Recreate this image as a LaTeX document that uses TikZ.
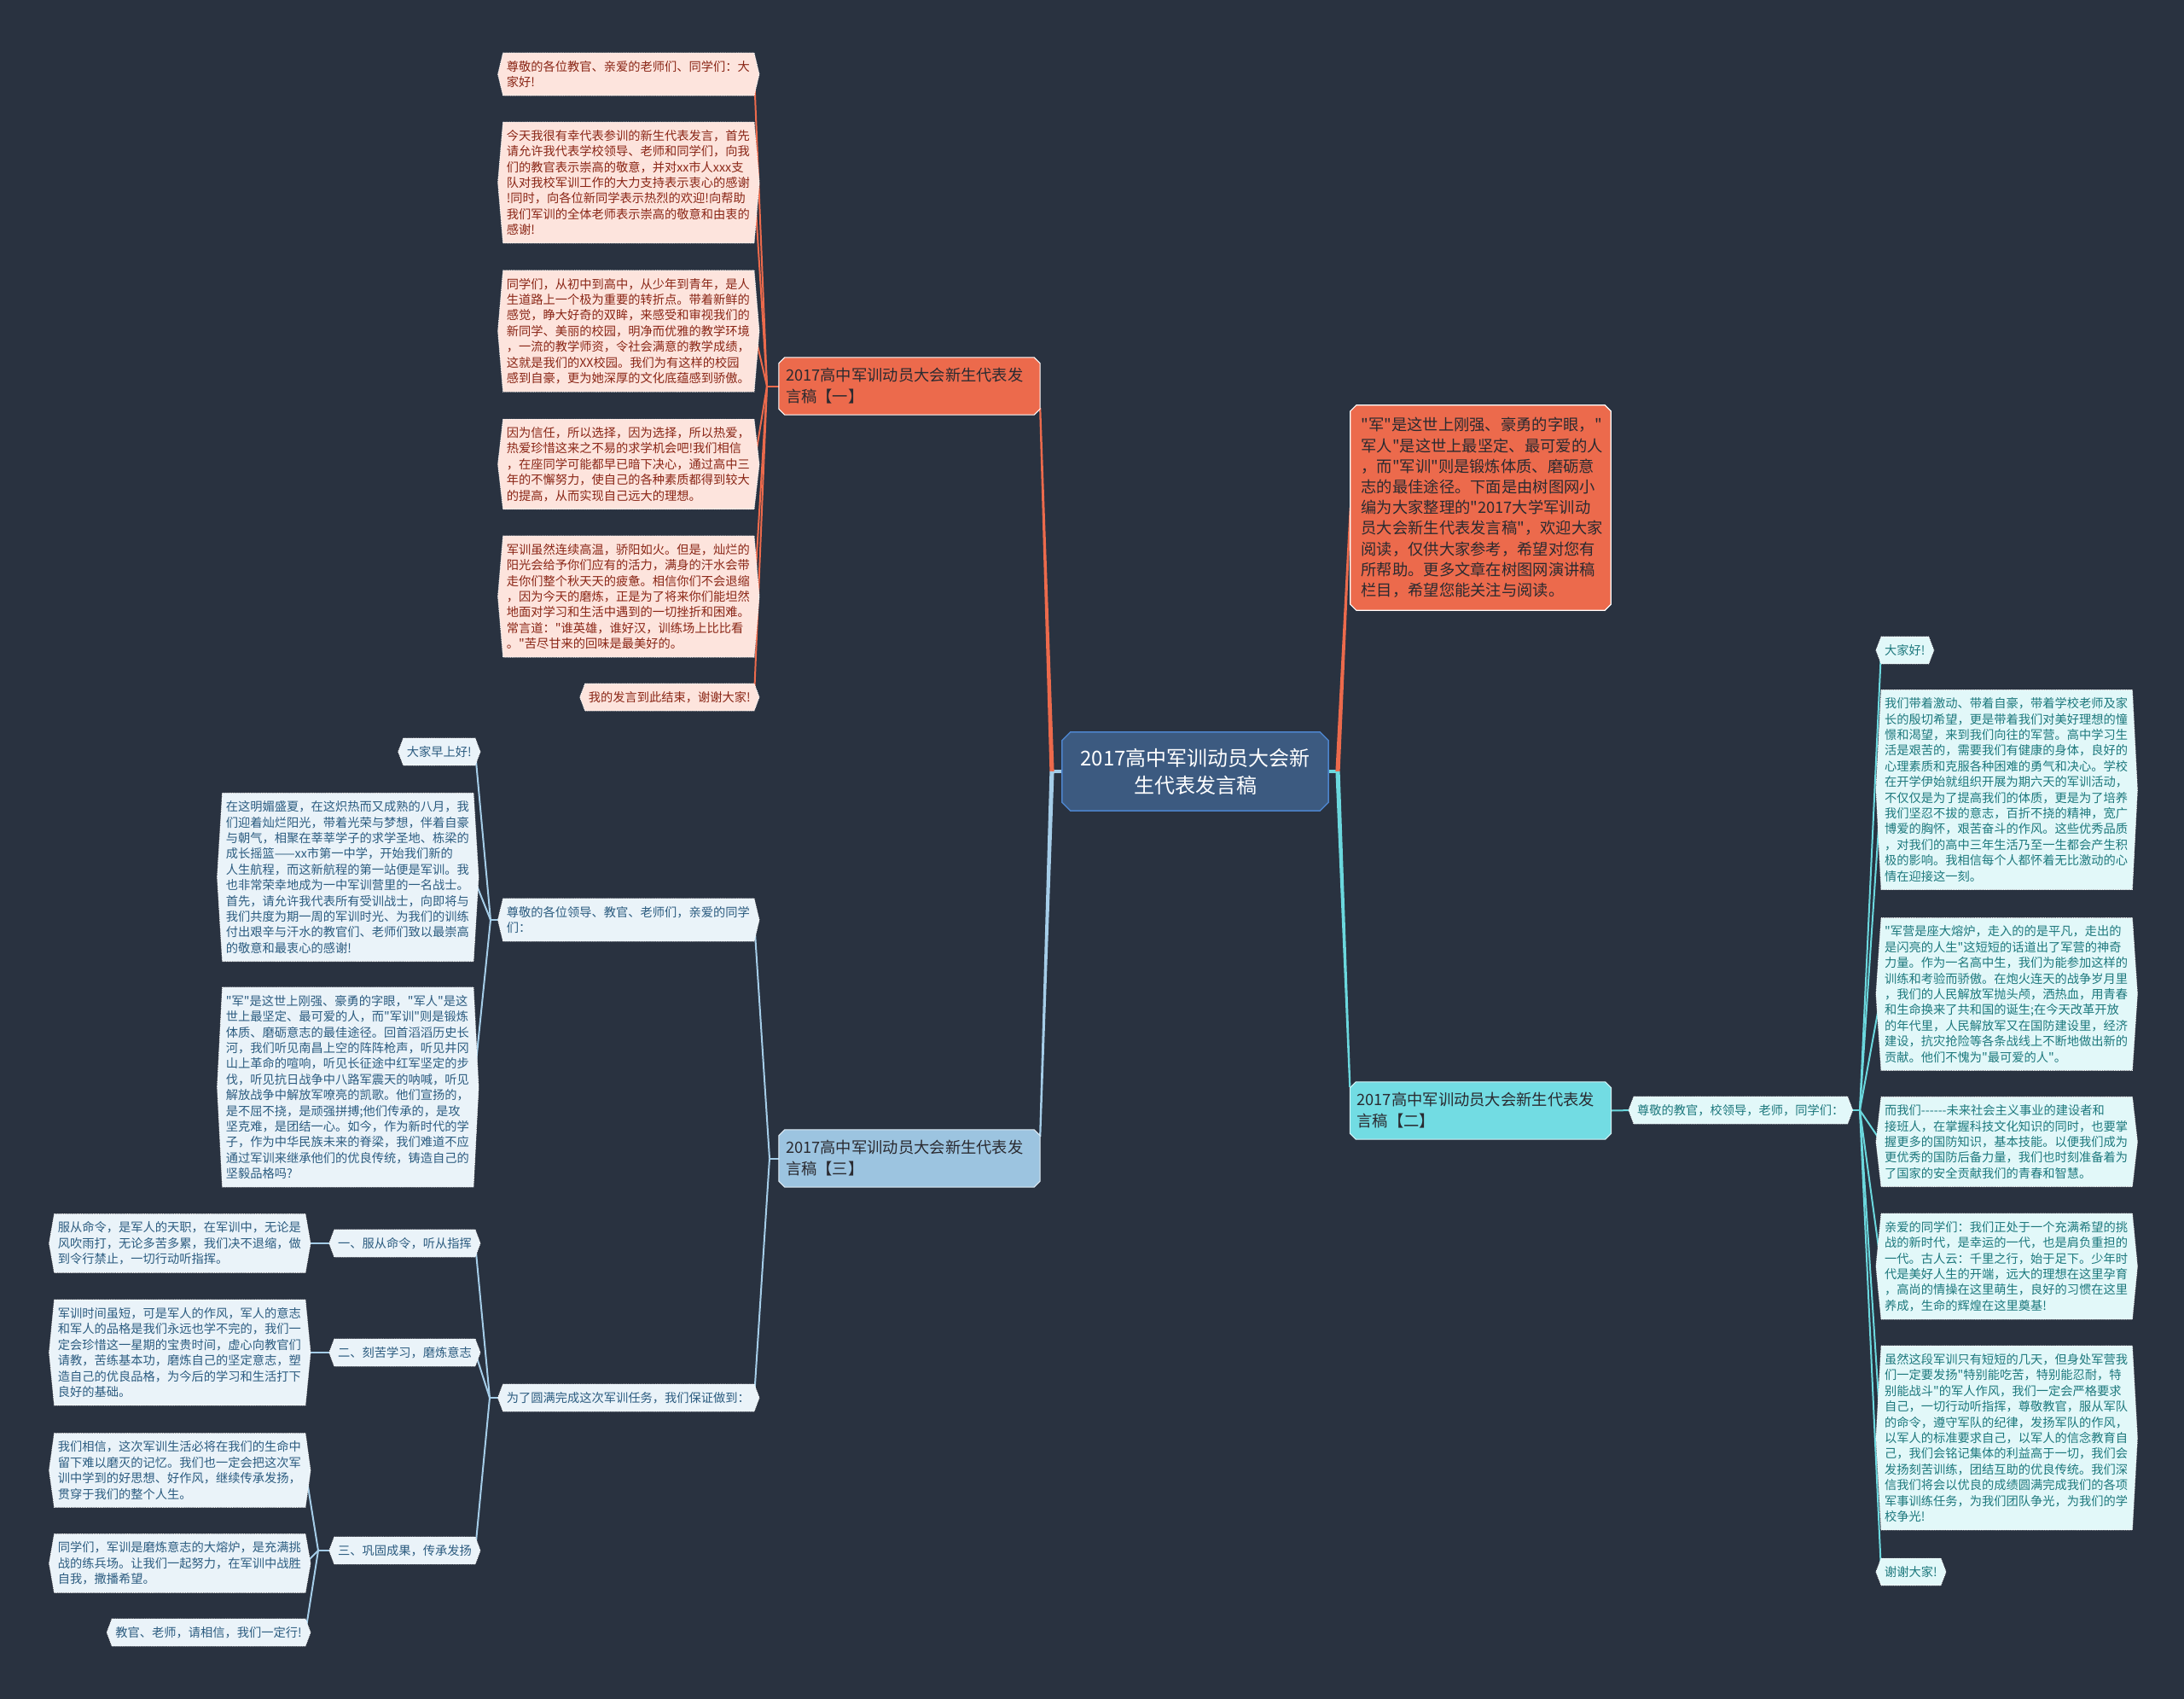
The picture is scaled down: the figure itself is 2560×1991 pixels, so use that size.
\documentclass[tikz,border=0pt]{standalone}
\usepackage{fontspec}
\setmainfont{Noto Sans CJK SC}[Ligatures=TeXOff]
\usetikzlibrary{calc}
\pgfdeclarelayer{bg}
\pgfdeclarelayer{lines}
\pgfdeclarelayer{shapes}
\pgfsetlayers{bg,lines,shapes,main}
\definecolor{bgc}{RGB}{41,50,64}
\definecolor{redc}{HTML}{EC6A4C}
\definecolor{redfill}{HTML}{FDE4DD}
\definecolor{redtext}{HTML}{8A2616}
\definecolor{bluec}{HTML}{A5CDE8}
\definecolor{bluenode}{HTML}{9CC4E0}
\definecolor{bluefill}{HTML}{EAF3F9}
\definecolor{bluetext}{HTML}{2C5C80}
\definecolor{cyanc}{HTML}{6BD8DE}
\definecolor{cyannode}{HTML}{72DCE3}
\definecolor{cyanfill}{HTML}{E2F8F9}
\definecolor{cyantext}{HTML}{1D787D}
\definecolor{centerfill}{HTML}{3C5A80}
\definecolor{centerdraw}{HTML}{4D84CC}
\definecolor{darktext}{HTML}{2A2A30}
\newcommand\hexshape[3]{%
  \begin{pgfonlayer}{shapes}
  \path[fill=#2,draw=#3,line width=0.9pt,densely dotted] (#1.north west) -- (#1.north east) -- ([xshift=6pt]#1.east) -- (#1.south east) -- (#1.south west) -- ([xshift=-6pt]#1.west) -- cycle;
  \end{pgfonlayer}}
\newcommand\octshape[5]{%
  \begin{pgfonlayer}{shapes}
  \path[fill=#2,draw=#3,line width=#5] ([xshift=#4]#1.north west) -- ([xshift=-#4]#1.north east) -- ([yshift=-#4]#1.north east) -- ([yshift=#4]#1.south east) -- ([xshift=-#4]#1.south east) -- ([xshift=#4]#1.south west) -- ([yshift=#4]#1.south west) -- ([yshift=-#4]#1.north west) -- cycle;
  \end{pgfonlayer}}
\newcommand\taper[5]{%
  \fill[#5] ($(#1)!#3!90:(#2)$) -- ($(#2)!#4!-90:(#1)$) -- ($(#2)!#4!90:(#1)$) -- ($(#1)!#3!-90:(#2)$) -- cycle;}
\tikzset{
  lf/.style={inner xsep=4pt,inner ysep=9pt,font=\fontsize{14.25}{18.4}\selectfont,align=left},
  wd/.style={text width=286pt},
  rlf/.style={lf,text=redtext},
  blf/.style={lf,text=bluetext},
  clf/.style={lf,text=cyantext},
  brn/.style={inner xsep=8pt,inner ysep=6pt,font=\fontsize{18.3}{25}\selectfont,text width=290pt,align=left,minimum height=67pt,text=darktext},
  subline/.style={line width=2pt},
}
\begin{document}
\begin{tikzpicture}[x=1pt,y=-1pt]
\useasboundingbox (0,0) rectangle (2560,1991);
\begin{pgfonlayer}{bg}\fill[bgc] (0,0) rectangle (2560,1991);\end{pgfonlayer}

% center
\node[minimum width=312pt,minimum height=92pt,inner sep=0pt,align=center,text=white,font=\fontsize{24}{32}\selectfont] (c) at (1401,904) {2017高中军训动员大会新\\生代表发言稿};
\octshape{c}{centerfill}{centerdraw}{10pt}{1.5pt}

% main branches
\node[brn] (n1) at (1066,452.5) {2017高中军训动员大会新生代表发\\言稿【一】};
\octshape{n1}{redc}{white}{7pt}{1pt}
\node[brn] (n3) at (1066,1357.5) {2017高中军训动员大会新生代表发\\言稿【三】};
\octshape{n3}{bluenode}{white!70!bluenode}{7pt}{1pt}
\node[brn] (n2) at (1735.5,1301.5) {2017高中军训动员大会新生代表发\\言稿【二】};
\octshape{n2}{cyannode}{white!70!cyannode}{7pt}{1pt}
\node[inner xsep=12.5pt,text width=280pt,minimum height=240pt,align=left,text=darktext,font=\fontsize{18.3}{24.2}\selectfont] (rn) at (1735.5,595) {"军"是这世上刚强、豪勇的字眼，"\\
军人"是这世上最坚定、最可爱的人\\
，而"军训"则是锻炼体质、磨砺意\\
志的最佳途径。下面是由树图网小\\
编为大家整理的"2017大学军训动\\
员大会新生代表发言稿"，欢迎大家\\
阅读，仅供大家参考，希望对您有\\
所帮助。更多文章在树图网演讲稿\\
栏目，希望您能关注与阅读。};
\octshape{rn}{redc}{white}{7pt}{1.2pt}

% branch 1 leaves
\node[rlf,wd,anchor=east] (L1) at (884,87) {尊敬的各位教官、亲爱的老师们、同学们：大\\
家好!};
\node[rlf,wd,anchor=east] (L2) at (884,214) {今天我很有幸代表参训的新生代表发言，首先\\
请允许我代表学校领导、老师和同学们，向我\\
们的教官表示崇高的敬意，并对xx市人xxx支\\
队对我校军训工作的大力支持表示衷心的感谢\\
!同时，向各位新同学表示热烈的欢迎!向帮助\\
我们军训的全体老师表示崇高的敬意和由衷的\\
感谢!};
\node[rlf,wd,anchor=east] (L3) at (884,388) {同学们，从初中到高中，从少年到青年，是人\\
生道路上一个极为重要的转折点。带着新鲜的\\
感觉，睁大好奇的双眸，来感受和审视我们的\\
新同学、美丽的校园，明净而优雅的教学环境\\
，一流的教学师资，令社会满意的教学成绩，\\
这就是我们的XX校园。我们为有这样的校园\\
感到自豪，更为她深厚的文化底蕴感到骄傲。};
\node[rlf,wd,anchor=east] (L4) at (884,544) {因为信任，所以选择，因为选择，所以热爱，\\
热爱珍惜这来之不易的求学机会吧!我们相信\\
，在座同学可能都早已暗下决心，通过高中三\\
年的不懈努力，使自己的各种素质都得到较大\\
的提高，从而实现自己远大的理想。};
\node[rlf,wd,anchor=east] (L5) at (884,699) {军训虽然连续高温，骄阳如火。但是，灿烂的\\
阳光会给予你们应有的活力，满身的汗水会带\\
走你们整个秋天天的疲惫。相信你们不会退缩\\
，因为今天的磨炼，正是为了将来你们能坦然\\
地面对学习和生活中遇到的一切挫折和困难。\\
常言道："谁英雄，谁好汉，训练场上比比看\\
。"苦尽甘来的回味是最美好的。};
\node[rlf,anchor=east] (L6) at (884,817) {我的发言到此结束，谢谢大家!};

% branch 3 (blue)
\node[blf,wd,anchor=east] (B1) at (884,1078) {尊敬的各位领导、教官、老师们，亲爱的同学\\
们：};
\node[blf,wd,anchor=east] (B2) at (884,1638) {为了圆满完成这次军训任务，我们保证做到：};
\node[blf,anchor=east] (C1) at (557,881) {大家早上好!};
\node[blf,wd,anchor=east] (C2) at (555,1028) {在这明媚盛夏，在这炽热而又成熟的八月，我\\
们迎着灿烂阳光，带着光荣与梦想，伴着自豪\\
与朝气，相聚在莘莘学子的求学圣地、栋梁的\\
成长摇篮——xx市第一中学，开始我们新的\\
人生航程，而这新航程的第一站便是军训。我\\
也非常荣幸地成为一中军训营里的一名战士。\\
首先，请允许我代表所有受训战士，向即将与\\
我们共度为期一周的军训时光、为我们的训练\\
付出艰辛与汗水的教官们、老师们致以最崇高\\
的敬意和最衷心的感谢!};
\node[blf,wd,anchor=east] (C3) at (555,1274) {"军"是这世上刚强、豪勇的字眼，"军人"是这\\
世上最坚定、最可爱的人，而"军训"则是锻炼\\
体质、磨砺意志的最佳途径。回首滔滔历史长\\
河，我们听见南昌上空的阵阵枪声，听见井冈\\
山上革命的喧响，听见长征途中红军坚定的步\\
伐，听见抗日战争中八路军震天的呐喊，听见\\
解放战争中解放军嘹亮的凯歌。他们宣扬的，\\
是不屈不挠，是顽强拼搏;他们传承的，是攻\\
坚克难，是团结一心。如今，作为新时代的学\\
子，作为中华民族未来的脊梁，我们难道不应\\
通过军训来继承他们的优良传统，铸造自己的\\
坚毅品格吗?};
\node[blf,anchor=east] (D1) at (557,1457) {一、服从命令，听从指挥};
\node[blf,anchor=east] (D2) at (557,1585) {二、刻苦学习，磨炼意志};
\node[blf,anchor=east] (D3) at (557,1817) {三、巩固成果，传承发扬};
\node[blf,wd,anchor=east] (E1) at (358,1457) {服从命令，是军人的天职，在军训中，无论是\\
风吹雨打，无论多苦多累，我们决不退缩，做\\
到令行禁止，一切行动听指挥。};
\node[blf,wd,anchor=east] (E2) at (358,1585) {军训时间虽短，可是军人的作风，军人的意志\\
和军人的品格是我们永远也学不完的，我们一\\
定会珍惜这一星期的宝贵时间，虚心向教官们\\
请教，苦练基本功，磨炼自己的坚定意志，塑\\
造自己的优良品格，为今后的学习和生活打下\\
良好的基础。};
\node[blf,wd,anchor=east] (F1) at (358,1723) {我们相信，这次军训生活必将在我们的生命中\\
留下难以磨灭的记忆。我们也一定会把这次军\\
训中学到的好思想、好作风，继续传承发扬，\\
贯穿于我们的整个人生。};
\node[blf,wd,anchor=east] (F2) at (358,1832) {同学们，军训是磨炼意志的大熔炉，是充满挑\\
战的练兵场。让我们一起努力，在军训中战胜\\
自我，撒播希望。};
\node[blf,anchor=east] (F3) at (358,1913) {教官、老师，请相信，我们一定行!};

% branch 2 (cyan)
\node[clf,anchor=west] (G) at (1915,1301) {尊敬的教官，校领导，老师，同学们：};
\node[clf,anchor=west] (R1) at (2205,762) {大家好!};
\node[clf,wd,anchor=west] (R2) at (2205,925.5) {我们带着激动、带着自豪，带着学校老师及家\\
长的殷切希望，更是带着我们对美好理想的憧\\
憬和渴望，来到我们向往的军营。高中学习生\\
活是艰苦的，需要我们有健康的身体，良好的\\
心理素质和克服各种困难的勇气和决心。学校\\
在开学伊始就组织开展为期六天的军训活动，\\
不仅仅是为了提高我们的体质，更是为了培养\\
我们坚忍不拔的意志，百折不挠的精神，宽广\\
博爱的胸怀，艰苦奋斗的作风。这些优秀品质\\
，对我们的高中三年生活乃至一生都会产生积\\
极的影响。我相信每个人都怀着无比激动的心\\
情在迎接这一刻。};
\node[clf,wd,anchor=west] (R3) at (2205,1165) {"军营是座大熔炉，走入的的是平凡，走出的\\
是闪亮的人生"这短短的话道出了军营的神奇\\
力量。作为一名高中生，我们为能参加这样的\\
训练和考验而骄傲。在炮火连天的战争岁月里\\
，我们的人民解放军抛头颅，洒热血，用青春\\
和生命换来了共和国的诞生;在今天改革开放\\
的年代里，人民解放军又在国防建设里，经济\\
建设，抗灾抢险等各条战线上不断地做出新的\\
贡献。他们不愧为"最可爱的人"。};
\node[clf,wd,anchor=west] (R4) at (2205,1338) {而我们-{}-{}-{}-{}-{}-未来社会主义事业的建设者和\\
接班人，在掌握科技文化知识的同时，也要掌\\
握更多的国防知识，基本技能。以便我们成为\\
更优秀的国防后备力量，我们也时刻准备着为\\
了国家的安全贡献我们的青春和智慧。};
\node[clf,wd,anchor=west] (R5) at (2205,1484) {亲爱的同学们：我们正处于一个充满希望的挑\\
战的新时代，是幸运的一代，也是肩负重担的\\
一代。古人云：千里之行，始于足下。少年时\\
代是美好人生的开端，远大的理想在这里孕育\\
，高尚的情操在这里萌生，良好的习惯在这里\\
养成，生命的辉煌在这里奠基!};
\node[clf,wd,anchor=west] (R6) at (2205,1685) {虽然这段军训只有短短的几天，但身处军营我\\
们一定要发扬"特别能吃苦，特别能忍耐，特\\
别能战斗"的军人作风，我们一定会严格要求\\
自己，一切行动听指挥，尊敬教官，服从军队\\
的命令，遵守军队的纪律，发扬军队的作风，\\
以军人的标准要求自己，以军人的信念教育自\\
己，我们会铭记集体的利益高于一切，我们会\\
发扬刻苦训练，团结互助的优良传统。我们深\\
信我们将会以优良的成绩圆满完成我们的各项\\
军事训练任务，为我们团队争光，为我们的学\\
校争光!};
\node[clf,anchor=west] (R7) at (2205,1842) {谢谢大家!};

% leaf shapes
\foreach \n in {L1,L2,L3,L4,L5,L6} {\hexshape{\n}{redfill}{white}}
\foreach \n in {B1,B2,C1,C2,C3,D1,D2,D3,E1,E2,F1,F2,F3} {\hexshape{\n}{bluefill}{white}}
\foreach \n in {G,R1,R2,R3,R4,R5,R6,R7} {\hexshape{\n}{cyanfill}{white}}

% junction coordinates
\coordinate (jl) at (1233,904);
\coordinate (jr) at (1568,904);
\coordinate (e1) at ([yshift=8pt]n1.south east);
\coordinate (e3) at ([yshift=-8pt]n3.north east);
\coordinate (e2) at ([yshift=-6pt]n2.north west);
\coordinate (j1) at (899,452.5);
\coordinate (j3) at (902,1357.5);
\coordinate (jb1) at (575,1078);
\coordinate (jb2) at (574,1638);
\coordinate (jd3) at (373,1817);
\coordinate (jg) at (2180,1301);

\begin{pgfonlayer}{lines}
% main branches
\draw[bluec,line width=4pt] (c.west) -- (jl);
\draw[cyanc,line width=4pt] (c.east) -- (jr);
\taper{jl}{e1}{2.6pt}{1.1pt}{redc}
\taper{jl}{e3}{2.6pt}{1.1pt}{bluec}
\taper{jr}{rn.west}{2.6pt}{1.1pt}{redc}
\taper{jr}{e2}{2.6pt}{1.1pt}{cyanc}
% branch 1
\draw[redc,subline] (n1.west) -- (j1);
\foreach \n in {L1,L2,L3,L4,L5,L6} {\draw[redc,subline] (j1) -- (\n.east);}
% branch 3
\draw[bluec,subline] (n3.west) -- (j3);
\draw[bluec,subline] (j3) -- (B1.east);
\draw[bluec,subline] (j3) -- (B2.east);
\draw[bluec,subline] (B1.west) -- (jb1);
\foreach \n in {C1,C2,C3} {\draw[bluec,subline] (jb1) -- (\n.east);}
\draw[bluec,subline] (B2.west) -- (jb2);
\foreach \n in {D1,D2,D3} {\draw[bluec,subline] (jb2) -- (\n.east);}
\draw[bluec,subline] (D1.west) -- (E1.east);
\draw[bluec,subline] (D2.west) -- (E2.east);
\draw[bluec,subline] (D3.west) -- (jd3);
\foreach \n in {F1,F2,F3} {\draw[bluec,subline] (jd3) -- (\n.east);}
% branch 2
\draw[cyanc,subline] (n2.east) -- (G.west);
\draw[cyanc,subline] (G.east) -- (jg);
\foreach \n in {R1,R2,R3,R4,R5,R6,R7} {\draw[cyanc,subline] (jg) -- (\n.west);}
\end{pgfonlayer}
\end{tikzpicture}
\end{document}
